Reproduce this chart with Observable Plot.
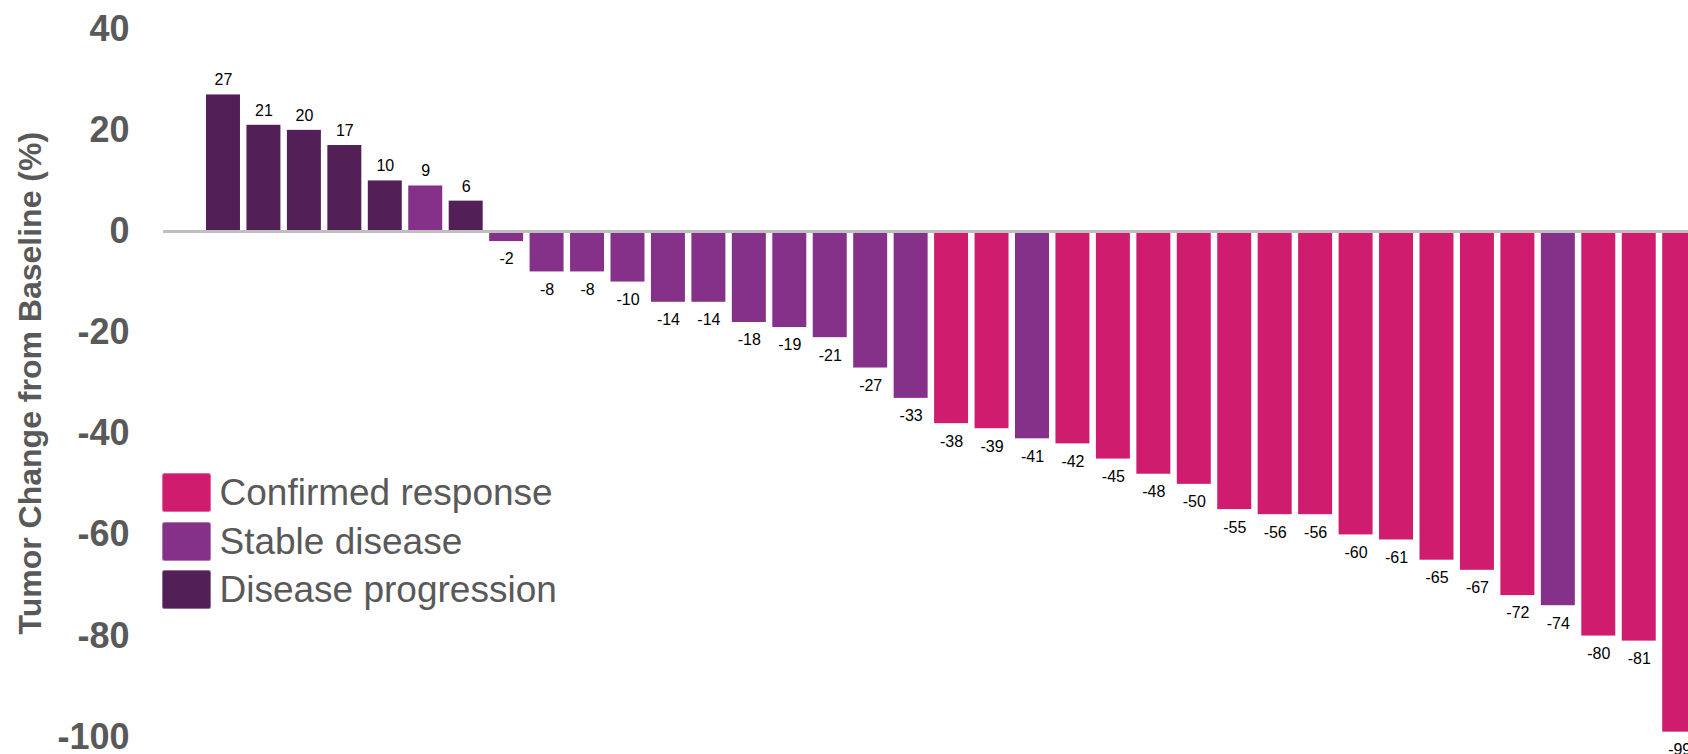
<!DOCTYPE html>
<html>
<head>
<meta charset="utf-8">
<script src="https://cdn.jsdelivr.net/npm/d3@7"></script>
<script src="https://cdn.jsdelivr.net/npm/@observablehq/plot@0.6"></script>
<style>
  html, body { margin: 0; padding: 0; background: #fff; overflow: hidden; }
  #wrap { position: relative; width: 1688px; height: 754px; overflow: hidden; font-family: "Liberation Sans", Arial, sans-serif; }
  #wrap svg { display: block; }
  #legend { position: absolute; left: 162px; top: 473px; }
  .row { display: flex; align-items: center; height: 39px; margin-bottom: 9.5px; }
  .sw { width: 48.5px; height: 39px; border-radius: 2.5px; box-sizing: border-box; border: 1px solid rgba(255,255,255,0.35); }
  .lab { margin-left: 9px; font-size: 37px; color: #595959; line-height: 39px; white-space: nowrap; }
</style>
</head>
<body>
<div id="wrap"></div>
<script>
// ---- data ----
const categories = ["Confirmed response", "Stable disease", "Disease progression"];
const categoryColors = ["#D01C6F", "#85318A", "#521F56"];
const values = [27, 21, 20, 17, 10, 9, 6, -2, -8, -8, -10, -14, -14, -18, -19, -21, -27, -33,
  -38, -39, -41, -42, -45, -48, -50, -55, -56, -56, -60, -61, -65, -67, -72, -74, -80, -81, -99];
const status = ["DP", "DP", "DP", "DP", "DP", "SD", "DP",
  "SD", "SD", "SD", "SD", "SD", "SD", "SD", "SD", "SD", "SD", "SD",
  "CR", "CR", "SD", "CR", "CR", "CR", "CR", "CR", "CR", "CR", "CR", "CR", "CR", "CR", "CR",
  "SD", "CR", "CR", "CR"];
const statusNames = {CR: "Confirmed response", SD: "Stable disease", DP: "Disease progression"};
const yTicks = [40, 20, 0, -20, -40, -60, -80, -100];
const yTitle = "Tumor Change from Baseline (%)";

const data = values.map((v, i) => ({id: i, value: v, status: statusNames[status[i]]}));

const font = "'Liberation Sans', Arial, sans-serif";
const W = 1688, H = 754;
const mTop = 28.7, mBottom = H - 736.7, mLeft = 163;
const step = 40.45, firstLeft = 206, padIn = 0.16;
const r0 = firstLeft - (padIn / 2) * step;
const r1 = r0 + values.length * step;

const chart = Plot.plot({
  width: W,
  height: H,
  marginTop: mTop,
  marginBottom: mBottom,
  marginLeft: mLeft,
  marginRight: 0,
  style: {fontFamily: font, background: "white"},
  x: {type: "band", domain: data.map(d => d.id), range: [r0, r1], paddingInner: padIn, paddingOuter: padIn / 2, round: false, axis: null},
  y: {domain: [-100, 40], axis: null},
  color: {domain: categories, range: categoryColors},
  marks: [
    Plot.axisY({
      ticks: yTicks, tickSize: 0, tickPadding: 34, label: null,
      tickFormat: d => `${d}`, fontSize: 36, fontWeight: "bold", fill: "#595959"
    }),
    Plot.text([yTitle], {
      frameAnchor: "left", rotate: -90, dx: -133, lineAnchor: "middle", textAnchor: "middle",
      fontSize: 32, fontWeight: "bold", fill: "#595959"
    }),
    Plot.barY(data, {x: "id", y: "value", fill: "status"}),
    Plot.ruleY([0], {stroke: "#BFBFBF", strokeWidth: 3}),
    Plot.text(data.filter(d => d.value >= 0), {
      x: "id", y: "value", text: d => `${d.value}`, lineAnchor: "bottom", dy: -9.5,
      fontSize: 16, fill: "#000"
    }),
    Plot.text(data.filter(d => d.value < 0), {
      x: "id", y: "value", text: d => `${d.value}`, lineAnchor: "top", dy: 11.5,
      fontSize: 16, fill: "#000"
    })
  ]
});

const wrap = document.getElementById("wrap");
wrap.appendChild(chart);

// legend overlay
const legend = document.createElement("div");
legend.id = "legend";
categories.forEach((c, i) => {
  const row = document.createElement("div");
  row.className = "row";
  const sw = document.createElement("div");
  sw.className = "sw";
  sw.style.background = categoryColors[i];
  const lab = document.createElement("div");
  lab.className = "lab";
  lab.textContent = c;
  row.appendChild(sw);
  row.appendChild(lab);
  legend.appendChild(row);
});
wrap.appendChild(legend);
</script>
</body>
</html>
